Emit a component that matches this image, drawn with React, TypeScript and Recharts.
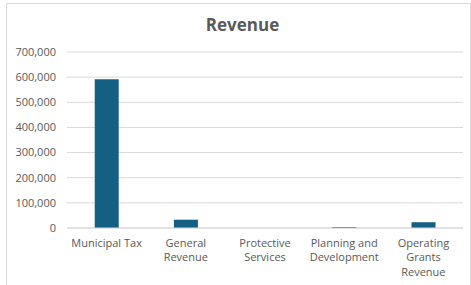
import React from "react";
import { BarChart, Bar, XAxis, YAxis, CartesianGrid } from "recharts";

const categories = [
  "Municipal Tax",
  "General Revenue",
  "Protective Services",
  "Planning and Development",
  "Operating Grants Revenue",
];
const revenue = [592000, 33000, 0, 4000, 23000];
const tickLines = [
  ["Municipal Tax"],
  ["General", "Revenue"],
  ["Protective", "Services"],
  ["Planning and", "Development"],
  ["Operating", "Grants", "Revenue"],
];
const yTicks = [0, 100000, 200000, 300000, 400000, 500000, 600000, 700000];

const data = categories.map((name, i) => ({ name, value: revenue[i] }));

const FONT = "'Open Sans', 'DejaVu Sans', sans-serif";
const TEXT = "#595959";

function CategoryTick(props: any) {
  const { x, y, index } = props;
  const lines = tickLines[index] || [];
  return (
    <text x={x} y={y} textAnchor="middle" fill={TEXT} fontSize={11} fontFamily={FONT}>
      {lines.map((l, i) => (
        <tspan key={i} x={x} dy={i === 0 ? 11 : 14.4}>
          {l}
        </tspan>
      ))}
    </text>
  );
}

export default function App() {
  return (
    <div
      style={{
        position: "fixed",
        left: 0,
        top: 0,
        width: 471,
        height: 285,
        background: "#fff",
        overflow: "hidden",
      }}
    >
      <div
        style={{
          position: "absolute",
          left: 6,
          top: 3,
          width: 463,
          height: 300,
          border: "1px solid #d9d9d9",
        }}
      />
      <div
        style={{
          position: "absolute",
          left: 0,
          top: 13,
          width: 485,
          textAlign: "center",
          fontFamily: FONT,
          fontWeight: 700,
          fontSize: 17,
          color: TEXT,
        }}
      >
        Revenue
      </div>
      <div style={{ position: "absolute", left: 0, top: 0 }}>
        <BarChart
          width={471}
          height={285}
          data={data}
          margin={{ top: 52, right: 8, bottom: 7, left: 0 }}
          barCategoryGap="35%"
        >
          <CartesianGrid vertical={false} stroke="#d9d9d9" />
          <XAxis
            dataKey="name"
            interval={0}
            height={50}
            axisLine={{ stroke: "#d9d9d9" }}
            tickLine={false}
            tick={<CategoryTick />}
          />
          <YAxis
            width={67}
            domain={[0, 700000]}
            ticks={yTicks}
            axisLine={false}
            tickLine={false}
            tickMargin={5}
            tick={{ fill: TEXT, fontSize: 11, fontFamily: FONT }}
            tickFormatter={(v: number) => v.toLocaleString("en-US")}
          />
          <Bar dataKey="value" fill="#156082" isAnimationActive={false} />
        </BarChart>
      </div>
    </div>
  );
}
